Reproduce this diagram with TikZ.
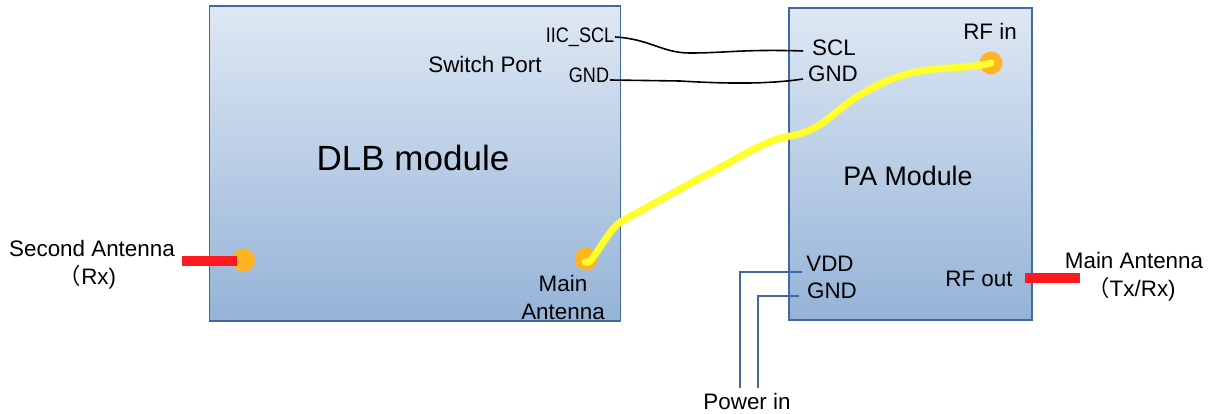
\documentclass[tikz,border=0pt]{standalone}
\usepackage{fontspec}
\setmainfont{Liberation Sans}
\newfontfamily\cjk{Noto Sans CJK SC}
\usepackage{xcolor}
\definecolor{BoxTop}{RGB}{222,232,243}
\definecolor{BoxBottom}{RGB}{149,179,215}
\definecolor{BorderBlue}{RGB}{65,105,160}
\definecolor{PinOrange}{RGB}{255,180,35}
\definecolor{CableYellow}{RGB}{255,255,45}
\definecolor{BarRed}{RGB}{255,25,30}
\usetikzlibrary{positioning, calc}
\tikzset{
  % Module box with vertical gradient
  modbox/.style={
    rectangle, draw=BorderBlue, line width=1.7pt,
    top color=BoxTop, bottom color=BoxBottom,
    anchor=north west, inner sep=0pt
  },
  % Plain labels
  lbl/.style={
    align=center, inner sep=1pt, text=black,
    font=\fontsize{22.4}{28}\selectfont
  },
  lbl narrow/.style={
    lbl, xscale=0.86, transform shape,
    font=\fontsize{21}{26}\selectfont
  },
  % Solder pad
  pad/.style={circle, fill=PinOrange, minimum size=23pt, inner sep=0pt},
  % Wires
  sigwire/.style={black, line width=1.6pt},
  pwrwire/.style={BorderBlue, line width=1.6pt},
  coax/.style={CableYellow, line width=7pt, line cap=round, line join=round},
  antbar/.style={BarRed, line width=9.5pt},
}
\begin{document}
\begin{tikzpicture}[x=1pt,y=-1pt]
  \useasboundingbox (0,0) rectangle (1212,414);

  % Modules
  \node[modbox, minimum width=411pt, minimum height=315pt] (dlb) at (208.5,5) {};
  \node[modbox, minimum width=243pt, minimum height=312pt] (pa) at (788,7) {};

  % Pads
  \node[pad] (secondpad) at (243.5,260) {};
  \node[pad] (mainpad) at (586,259) {};
  \node[pad] (rfpad) at (991,63) {};

  % Labels
  \node[lbl, font=\fontsize{35}{42}\selectfont] (dlbname) at (413,158) {DLB module};
  \node[lbl, font=\fontsize{26.8}{32}\selectfont] (paname) at (908,176) {PA Module};
  \node[lbl] (switchport) at (485,64) {Switch Port};
  \node[lbl narrow] (iicscl) at (580,37) {IIC\_SCL};
  \node[lbl narrow] (dlbgnd) at (589,75) {GND};
  \node[lbl] (scl) at (834,48) {SCL};
  \node[lbl] (pagnd) at (833,74) {GND};
  \node[lbl] (rfin) at (990,31) {RF in};
  \node[lbl] (vdd) at (830,264) {VDD};
  \node[lbl] (pwrgnd) at (832,291) {GND};
  \node[lbl] (rfout) at (979,279) {RF out};
  \node[lbl] (mainant) at (563,297) {Main\\Antenna};
  \node[lbl] (secondant) at (92,265) {Second Antenna\\{\cjk （}Rx)\hspace*{9pt}};
  \node[lbl] (mainanttx) at (1134,277) {Main Antenna\\{\cjk （}Tx/Rx)\hspace*{5pt}};
  \node[lbl] (powerin) at (747,401) {Power in};

  % Free wire ends
  \coordinate (secondfree) at (182,261);
  \coordinate (secondtip) at (237,261);
  \coordinate (rfoutfree) at (1025,278);
  \coordinate (rfouttip) at (1080,278);
  \coordinate (vddend) at (802,272);
  \coordinate (gndend) at (799,296);
  \coordinate (powerleft) at (740,388);
  \coordinate (powerright) at (758,388);

  % Antenna stubs
  \draw[antbar] (secondfree) -- (secondtip);
  \draw[antbar] (rfoutfree) -- (rfouttip);

  % Control lines
  \draw[sigwire] (iicscl.east) .. controls (650,39) and (662,53) .. (690,53)
    .. controls (725,53) and (745,49) .. (803,51);
  \draw[sigwire] ([yshift=-5pt]dlbgnd.east) -- (680,81)
    .. controls (730,84) and (770,84) .. (803,79);

  % Power lines
  \draw[pwrwire] (vddend) -- (740,272) -- (powerleft);
  \draw[pwrwire] (gndend) -- (758,296) -- (powerright);

  % RF cable
  \draw[coax] (mainpad.center) ++(-1,3) -- ++(4,0)
    .. controls (600,250) and (610,228) .. (622,221)
    -- (700,178)
    .. controls (745,155) and (765,140) .. (790,136)
    .. controls (825,130) and (835,108) .. (865,92)
    .. controls (890,78) and (910,70) .. (950,68)
    .. controls (965,67) and (980,66) .. (rfpad.center);
\end{tikzpicture}
\end{document}
